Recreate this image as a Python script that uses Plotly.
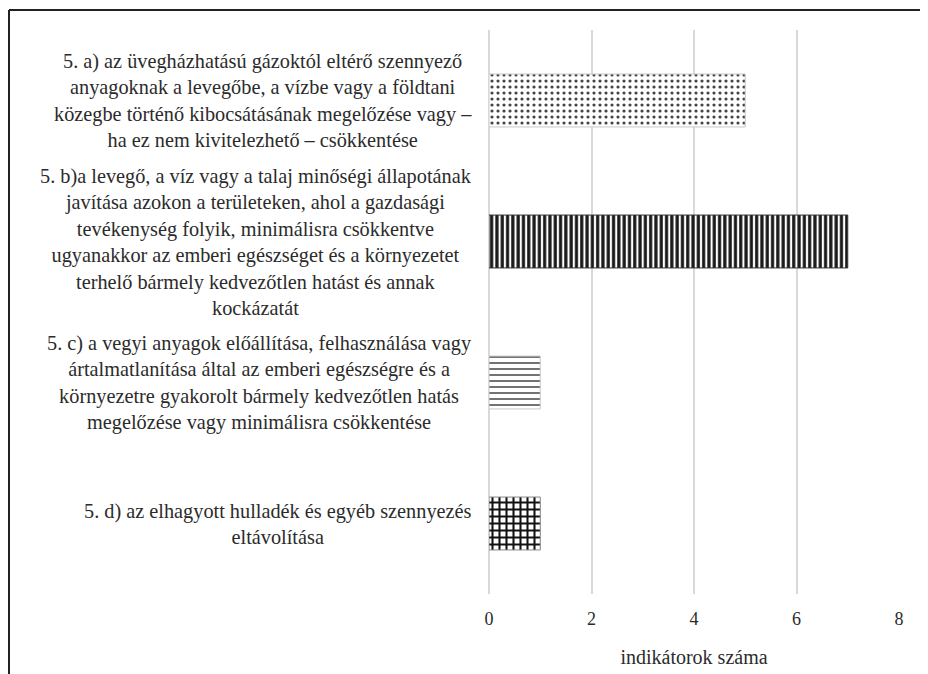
import plotly.graph_objects as go

categories = [
    "5. a) az üvegházhatású gázoktól eltérő szennyező<br>anyagoknak a levegőbe, a vízbe vagy a földtani<br>közegbe történő kibocsátásának megelőzése vagy –<br>ha ez nem kivitelezhető – csökkentése",
    "5. b)a levegő, a víz vagy a talaj minőségi állapotának<br>javítása azokon a területeken, ahol a gazdasági<br>tevékenység folyik, minimálisra csökkentve<br>ugyanakkor az emberi egészséget és a környezetet<br>terhelő bármely kedvezőtlen hatást és annak<br>kockázatát",
    "5. c) a vegyi anyagok előállítása, felhasználása vagy<br>ártalmatlanítása által az emberi egészségre és a<br>környezetre gyakorolt bármely kedvezőtlen hatás<br>megelőzése vagy minimálisra csökkentése",
    "5. d) az elhagyott hulladék és egyéb szennyezés<br>eltávolítása",
]
keys = ["a", "b", "c", "d"]
values = [5, 7, 1, 1]
x_ticks = [0, 2, 4, 6, 8]
x_title = "indikátorok száma"

styles = {
    "a": dict(shape=".", fg="#444444", size=6, sol=0.22, line="#c8c8c8"),
    "b": dict(shape="|", fg="#1a1a1a", size=5.3, sol=0.6, line="#333333"),
    "c": dict(shape="-", fg="#444444", size=6, sol=0.25, line="#c8c8c8"),
    "d": dict(shape="+", fg="#111111", size=7, sol=0.5, line="#888888"),
}

FONT = "Liberation Serif"

fig = go.Figure()
for k, v in zip(keys, values):
    s = styles[k]
    fig.add_trace(go.Bar(
        x=[v], y=[k], orientation="h", width=0.375,
        marker=dict(
            color="white",
            line=dict(color=s["line"], width=1),
            pattern=dict(shape=s["shape"], fgcolor=s["fg"], bgcolor="white",
                         size=s["size"], solidity=s["sol"], fillmode="replace"),
        ),
        showlegend=False,
    ))

# page has an 8px body margin; compensate so the plot sits where the reference has it
OFF = 8
L, R, T, B = 489 - OFF, 29 + OFF, 30 - OFF, 80 + OFF
W, H = 928, 674
pw, ph = W - L - R, H - T - B


def px2x(p):
    return (p - OFF - L) / pw


def py2y(p):
    return (H - B - (p - OFF)) / ph


for k, lab in zip(keys, categories):
    fig.add_annotation(
        x=px2x(474), xref="paper", y=k, yref="y",
        text=lab, showarrow=False, xanchor="right", yanchor="middle",
        align="center", font=dict(family=FONT, size=20.3, color="#2b2b2b"),
    )

fig.add_shape(type="line", xref="paper", yref="paper",
              x0=px2x(9), x1=px2x(960), y0=py2y(10), y1=py2y(10),
              line=dict(color="#222222", width=2))
fig.add_shape(type="line", xref="paper", yref="paper",
              x0=px2x(9), x1=px2x(9), y0=py2y(10), y1=py2y(700),
              line=dict(color="#222222", width=2))

fig.update_layout(
    width=W, height=H,
    margin=dict(l=L, r=R, t=T, b=B),
    paper_bgcolor="white", plot_bgcolor="white",
    font=dict(family=FONT, size=18, color="#2b2b2b"),
    bargap=0.6,
)
fig.update_xaxes(
    range=[0, 8], tickvals=x_ticks, showgrid=True, gridcolor="#d9d9d9", gridwidth=1.5,
    zeroline=True, zerolinecolor="#d9d9d9", zerolinewidth=1.5, showline=False,
    ticks="", ticklabelstandoff=12,
    title=dict(text=x_title, font=dict(family=FONT, size=20), standoff=21),
    tickfont=dict(family=FONT, size=18),
)
fig.update_yaxes(
    categoryorder="array", categoryarray=keys, autorange="reversed",
    range=[3.5, -0.5], showticklabels=False, showgrid=False, zeroline=False, showline=False,
)

fig.write_html("out.html")
